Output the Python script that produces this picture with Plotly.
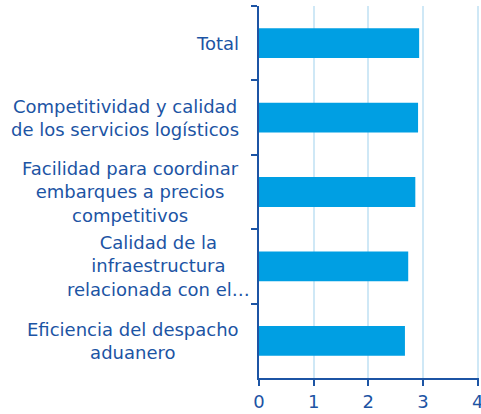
import plotly.graph_objects as go

# Puntaje por componente (escala 0 a 4)
categorias = [
    "Total",
    "Competitividad y calidad<br>de los servicios logísticos",
    "Facilidad para coordinar<br>embarques a precios<br>competitivos",
    "Calidad de la<br>infraestructura<br>relacionada con el…",
    "Eficiencia del despacho<br>aduanero",
]
puntajes = [2.93, 2.91, 2.86, 2.73, 2.67]
ticks_x = [0, 1, 2, 3, 4]

AZUL_TEXTO = "#1c54a4"
AZUL_BARRA = "#009fe3"
AZUL_GRILLA = "#cfe8f6"
FUENTE = "DejaVu Sans"

fig = go.Figure(
    go.Bar(
        x=puntajes,
        y=categorias,
        orientation="h",
        marker=dict(color=AZUL_BARRA, line=dict(width=0)),
        width=0.4,
        hoverinfo="x+y",
    )
)

# Etiquetas de categoría: bloque alineado a la derecha, líneas centradas
for cat in categorias:
    ancho_extra = 11 if cat.endswith("…") else 0
    fig.add_annotation(
        x=0, xref="paper", xanchor="right", xshift=-18 + ancho_extra,
        y=cat, yref="y", yanchor="middle",
        text=cat, showarrow=False, align="center",
        font=dict(family=FUENTE, size=18, color=AZUL_TEXTO),
    )

fig.update_layout(
    width=481,
    height=414,
    margin=dict(l=259, r=2, t=6, b=36, autoexpand=False),
    paper_bgcolor="white",
    plot_bgcolor="white",
    showlegend=False,
    font=dict(family=FUENTE, size=18, color=AZUL_TEXTO),
)

fig.update_xaxes(
    range=[0, 4.025],
    tickvals=ticks_x,
    ticktext=[str(t) for t in ticks_x],
    ticks="outside",
    ticklen=6,
    tickwidth=2,
    tickcolor=AZUL_TEXTO,
    ticklabeloverflow="allow",
    showline=True,
    linecolor=AZUL_TEXTO,
    linewidth=2,
    showgrid=True,
    gridcolor=AZUL_GRILLA,
    gridwidth=1.5,
    zeroline=False,
    tickfont=dict(family=FUENTE, size=18, color=AZUL_TEXTO),
    fixedrange=True,
)

fig.update_yaxes(
    type="category",
    categoryorder="array",
    categoryarray=categorias,
    autorange="reversed",
    tickson="boundaries",
    ticks="outside",
    ticklen=6,
    tickwidth=2,
    tickcolor=AZUL_TEXTO,
    showticklabels=False,
    showline=True,
    linecolor=AZUL_TEXTO,
    linewidth=2,
    showgrid=False,
    zeroline=False,
    fixedrange=True,
)

fig.write_html("out.html")
